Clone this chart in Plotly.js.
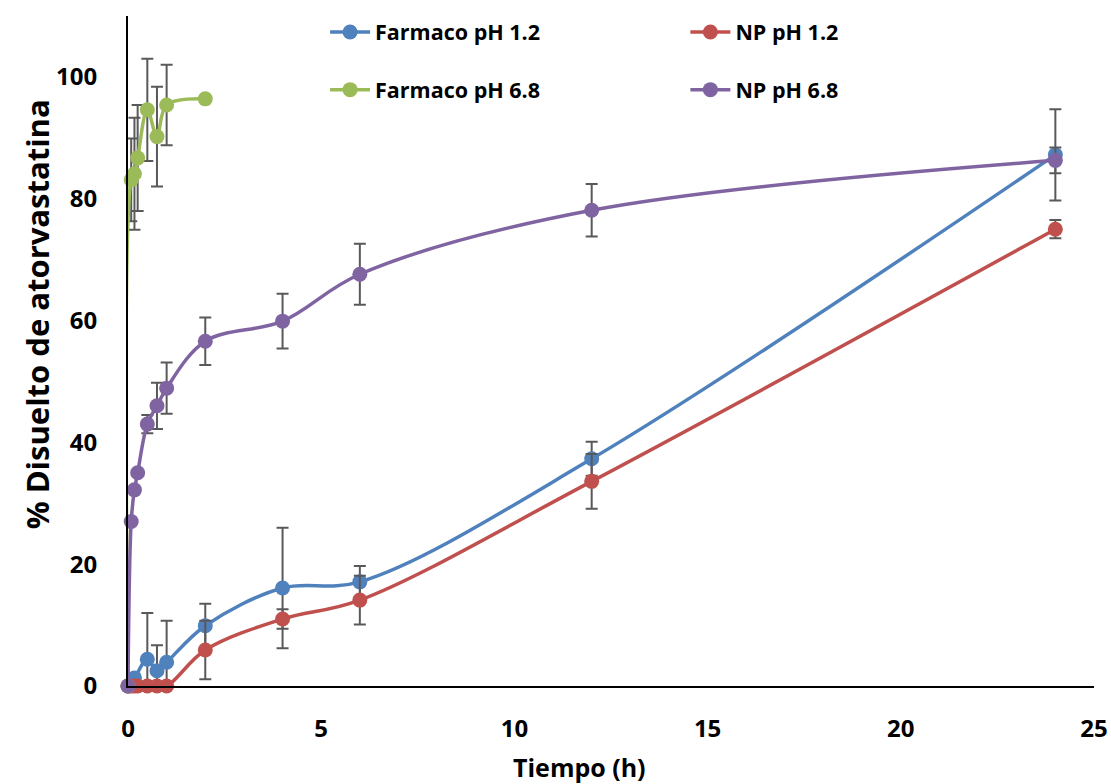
<!DOCTYPE html>
<html>
<head>
<meta charset="utf-8">
<script src="https://cdn.plot.ly/plotly-3.0.1.min.js"></script>
<style>
  html, body { margin: 0; padding: 0; background: #fff; }
  #chart { width: 1111px; height: 784px; }
</style>
</head>
<body>
<div id="chart"></div>
<script>
// Dissolution profiles of atorvastatin: free drug vs nanoparticles at two pH values
const seriesNames = ['Farmaco pH 1.2', 'NP pH 1.2', 'Farmaco pH 6.8', 'NP pH 6.8'];

const timeFarmaco12 = [0, 0.167, 0.5, 0.75, 1, 2, 4, 6, 12, 24];
const farmaco12 = [0, 1.3, 4.4, 2.5, 3.9, 9.9, 16.1, 17.1, 37.3, 87.2];
const farmaco12ErrPlus = [0, 0.7, 7.6, 4.2, 6.8, 3.6, 9.9, 2.6, 2.8, 7.5];
const farmaco12ErrMinus = [0, 0.7, 4.4, 2.5, 3.9, 3.6, 9.9, 2.6, 2.8, 7.5];

const timeNP12 = [0, 0.083, 0.167, 0.25, 0.5, 0.75, 1, 2, 4, 6, 12, 24];
const np12 = [0, 0, 0, 0, 0, 0, 0, 5.9, 11.0, 14.1, 33.6, 75.0];
const np12Err = [0, 0, 0, 0, 0, 0, 0, 4.8, 1.6, 4.0, 4.5, 1.5];

const timeFarmaco68 = [0, 0.083, 0.167, 0.25, 0.5, 0.75, 1, 2];
const farmaco68 = [0, 83.1, 84.1, 86.7, 94.6, 90.2, 95.4, 96.4];
const farmaco68Err = [0, 6.8, 9.2, 8.7, 8.4, 8.2, 6.6, 0];

const timeNP68 = [0, 0.083, 0.167, 0.25, 0.5, 0.75, 1, 2, 4, 6, 12, 24];
const np68 = [0, 27.0, 32.2, 35.0, 43.0, 46.0, 48.9, 56.6, 59.9, 67.6, 78.1, 86.3];
const np68Err = [0, 0, 0, 0, 1.5, 3.8, 4.2, 3.9, 4.5, 5.0, 4.3, 2.1];

const xTicks = [0, 5, 10, 15, 20, 25];
const yTicks = [0, 20, 40, 60, 80, 100];

const colors = ['#4F81BD', '#C0504D', '#9BBB59', '#8064A2'];
const FONT = '"Open Sans", Lato, sans-serif';

function series(name, x, y, errPlus, errMinus, color, legend) {
  return {
    type: 'scatter',
    mode: 'lines+markers',
    name: name,
    x: x,
    y: y,
    legend: legend,
    cliponaxis: false,
    line: { color: color, width: 3.5, shape: 'spline', smoothing: 1 },
    marker: { color: color, size: 15 },
    error_y: {
      type: 'data',
      symmetric: false,
      array: errPlus,
      arrayminus: errMinus,
      color: '#595959',
      thickness: 2,
      width: 6
    }
  };
}

const data = [
  series(seriesNames[0], timeFarmaco12, farmaco12, farmaco12ErrPlus, farmaco12ErrMinus, colors[0], 'legend'),
  series(seriesNames[1], timeNP12, np12, np12Err, np12Err, colors[1], 'legend2'),
  series(seriesNames[2], timeFarmaco68, farmaco68, farmaco68Err, farmaco68Err, colors[2], 'legend3'),
  series(seriesNames[3], timeNP68, np68, np68Err, np68Err, colors[3], 'legend4')
];

// one single-entry legend per series, laid out as a 2x2 grid
function legendAt(x, y) {
  return {
    x: x, y: y,
    xanchor: 'left',
    yanchor: 'middle',
    itemwidth: 40,
    bgcolor: 'rgba(0,0,0,0)',
    borderwidth: 0,
    font: { family: FONT, size: 21.5, color: '#000', weight: 'bold' }
  };
}

const layout = {
  width: 1111,
  height: 784,
  margin: { l: 128, r: 17, t: 12, b: 98 },
  paper_bgcolor: '#fff',
  plot_bgcolor: '#fff',
  showlegend: true,
  legend: legendAt(0.204, 0.976),
  legend2: legendAt(0.577, 0.976),
  legend3: legendAt(0.204, 0.890),
  legend4: legendAt(0.577, 0.890),
  xaxis: {
    range: [0, 25],
    tickvals: xTicks,
    ticktext: xTicks.map(String),
    showgrid: false,
    zeroline: false,
    showline: true,
    linecolor: '#000',
    linewidth: 2,
    ticks: '',
    ticklabelstandoff: 20,
    tickfont: { family: FONT, size: 24, color: '#000', weight: 'bold' }
  },
  yaxis: {
    range: [0, 110],
    tickvals: yTicks,
    ticktext: yTicks.map(String),
    showgrid: false,
    zeroline: false,
    showline: true,
    linecolor: '#000',
    linewidth: 2,
    ticks: '',
    ticklabelstandoff: 24,
    tickfont: { family: FONT, size: 24, color: '#000', weight: 'bold' }
  },
  annotations: [
    {
      text: 'Tiempo (h)',
      xref: 'paper', yref: 'paper',
      x: 0.467, y: -0.121,
      xanchor: 'center', yanchor: 'middle',
      showarrow: false,
      font: { family: FONT, size: 25, color: '#000', weight: 'bold' }
    },
    {
      text: '% Disuelto de atorvastatina',
      xref: 'paper', yref: 'paper',
      x: -0.094, y: 0.555,
      xanchor: 'center', yanchor: 'middle',
      textangle: -90,
      showarrow: false,
      font: { family: FONT, size: 31, color: '#000', weight: 'bold' }
    }
  ]
};

Plotly.newPlot('chart', data, layout, { displayModeBar: false, staticPlot: true });
</script>
</body>
</html>
